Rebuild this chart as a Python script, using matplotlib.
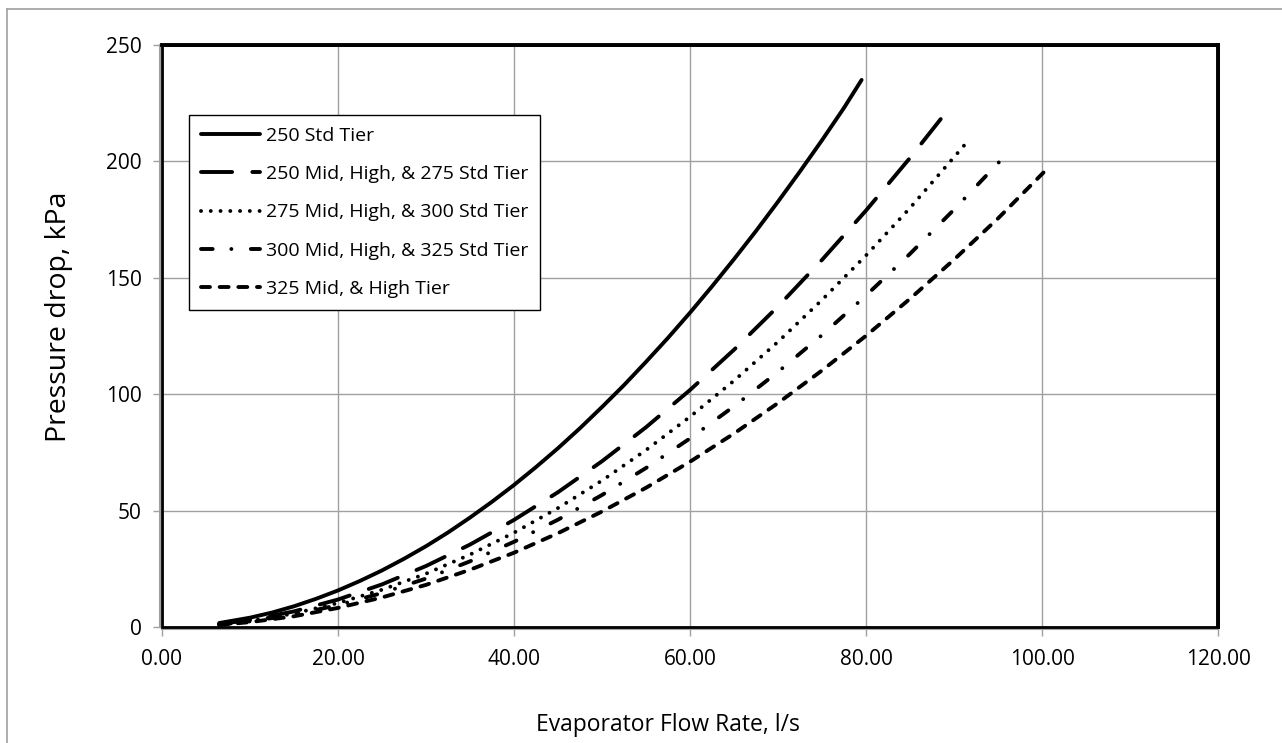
import matplotlib
matplotlib.use("Agg")
import matplotlib.pyplot as plt
from matplotlib.lines import Line2D
from matplotlib.patches import Rectangle

plt.rcParams['font.family'] = ['Open Sans', 'DejaVu Sans']

# values
labels = ["250 Std Tier",
          "250 Mid, High, & 275 Std Tier",
          "275 Mid, High, & 300 Std Tier",
          "300 Mid, High, & 325 Std Tier",
          "325 Mid, & High Tier"]

x_250std = [6.5, 10, 12.5, 15, 17.5, 20, 22.5, 25, 27.5, 30, 32.5, 35, 37.5, 40, 42.5, 45, 47.5, 50,
            52.5, 55, 57.5, 60, 62.5, 65, 67.5, 70, 72.5, 75, 77.5, 79.5]
y_250std = [1.7, 4.0, 6.2, 8.9, 12.1, 15.7, 19.8, 24.3, 29.3, 34.7, 40.6, 47.0, 53.8, 61.0, 68.7, 76.8, 85.4, 94.5,
            103.9, 113.9, 124.2, 135.0, 146.3, 158.0, 170.1, 182.7, 195.7, 209.1, 223.0, 235.0]

x_250mid = [6.5, 10, 15, 20, 25, 30, 35, 40, 45, 50, 55, 60, 65, 70, 75, 80, 85, 89.5]
y_250mid = [1.3, 3.0, 6.7, 11.8, 18.3, 26.2, 35.4, 46.0, 57.9, 71.2, 85.8, 101.8, 119.1, 137.7, 157.7, 178.9, 201.5, 223.0]

x_275mid = [6.5, 10, 15, 20, 25, 30, 35, 40, 45, 50, 55, 60, 65, 70, 75, 80, 85, 91.6]
y_275mid = [1.1, 2.6, 5.8, 10.3, 16.0, 22.9, 31.1, 40.5, 51.1, 62.9, 76.0, 90.3, 105.8, 122.5, 140.5, 159.6, 180.0, 208.8]

x_300mid = [6.5, 10, 15, 20, 25, 30, 35, 40, 45, 50, 55, 60, 65, 70, 75, 80, 85, 90, 95.7]
y_300mid = [1.0, 2.4, 5.3, 9.4, 14.6, 20.8, 28.2, 36.6, 46.1, 56.7, 68.3, 81.0, 94.8, 109.6, 125.4, 142.4, 160.3, 179.3, 202.0]

x_325mid = [6.5, 10, 15, 20, 25, 30, 35, 40, 45, 50, 55, 60, 65, 70, 75, 80, 85, 90, 95, 100.9]
y_325mid = [0.9, 2.1, 4.6, 8.2, 12.7, 18.1, 24.6, 31.9, 40.3, 49.6, 59.8, 71.0, 83.1, 96.2, 110.2, 125.1, 141.0, 157.8, 175.5, 198.0]

xticks = [0, 20, 40, 60, 80, 100, 120]
yticks = [0, 50, 100, 150, 200, 250]

fig = plt.figure(figsize=(12.82, 7.43), dpi=100)
ax = fig.add_axes([162/1282, 1-627/743, 1056/1282, 582/743])

lw = 2.8
ax.plot(x_250std, y_250std, color='black', lw=lw, solid_capstyle='round', solid_joinstyle='round', label=labels[0], zorder=3)
ax.plot(x_250mid, y_250mid, color='black', lw=lw, dashes=(8, 5.2), dash_capstyle='round', label=labels[1], zorder=3)
ax.plot(x_275mid, y_275mid, color='black', lw=lw, dashes=(0.01, 2.5), dash_capstyle='round', label=labels[2], zorder=3)
ax.plot(x_300mid, y_300mid, color='black', lw=lw, dashes=(3, 4.8, 0.01, 5), dash_capstyle='round', label=labels[3], zorder=3)
ax.plot(x_325mid, y_325mid, color='black', lw=lw, dashes=(2.3, 2.5), dash_capstyle='round', label=labels[4], zorder=3)

ax.set_xlim(0, 120)
ax.set_ylim(0, 250)
ax.set_xticks(xticks)
ax.set_xticklabels(["%.2f" % v for v in xticks])
ax.set_yticks(yticks)
ax.grid(True, color='#a0a0a0', lw=1.0)
ax.set_axisbelow(True)

ax.tick_params(axis='both', direction='out', length=5, width=1, color='#a0a0a0', labelsize=15)
ax.tick_params(axis='x', pad=9)
ax.tick_params(axis='y', pad=8)
for s in ['top', 'right']:
    ax.spines[s].set_color('black')
    ax.spines[s].set_linewidth(2.8)
for s in ['left', 'bottom']:
    ax.spines[s].set_color('#a0a0a0')
    ax.spines[s].set_linewidth(1.5)
    ax.spines[s].set_position(('outward', 1.5))
ax.add_patch(Rectangle((0, 0), 1, 1, transform=ax.transAxes, fill=False,
                       edgecolor='black', lw=2.0, clip_on=False, zorder=4))

ax.set_xlabel("Evaporator Flow Rate, l/s", fontsize=16.5, labelpad=31)
ax.xaxis.label.set_x(0.4787)
ax.set_ylabel("Pressure drop, kPa", fontsize=20.5, labelpad=24)
ax.yaxis.label.set_y(0.533)

leg = ax.legend(loc='upper left', bbox_to_anchor=(0.0256, 0.88), borderaxespad=0,
                fontsize=14, handlelength=3.05, handletextpad=0.3, labelspacing=1.05,
                borderpad=0.6, fancybox=False, framealpha=1, edgecolor='black')
leg.get_frame().set_linewidth(1.0)

# outer chart border
fig.add_artist(Line2D([7/1282, 1], [1-9/743, 1-9/743], color='#a0a0a0', lw=1.2))
fig.add_artist(Line2D([7/1282, 7/1282], [0, 1-9/743], color='#a0a0a0', lw=1.2))

fig.savefig("out.png", dpi=100)
